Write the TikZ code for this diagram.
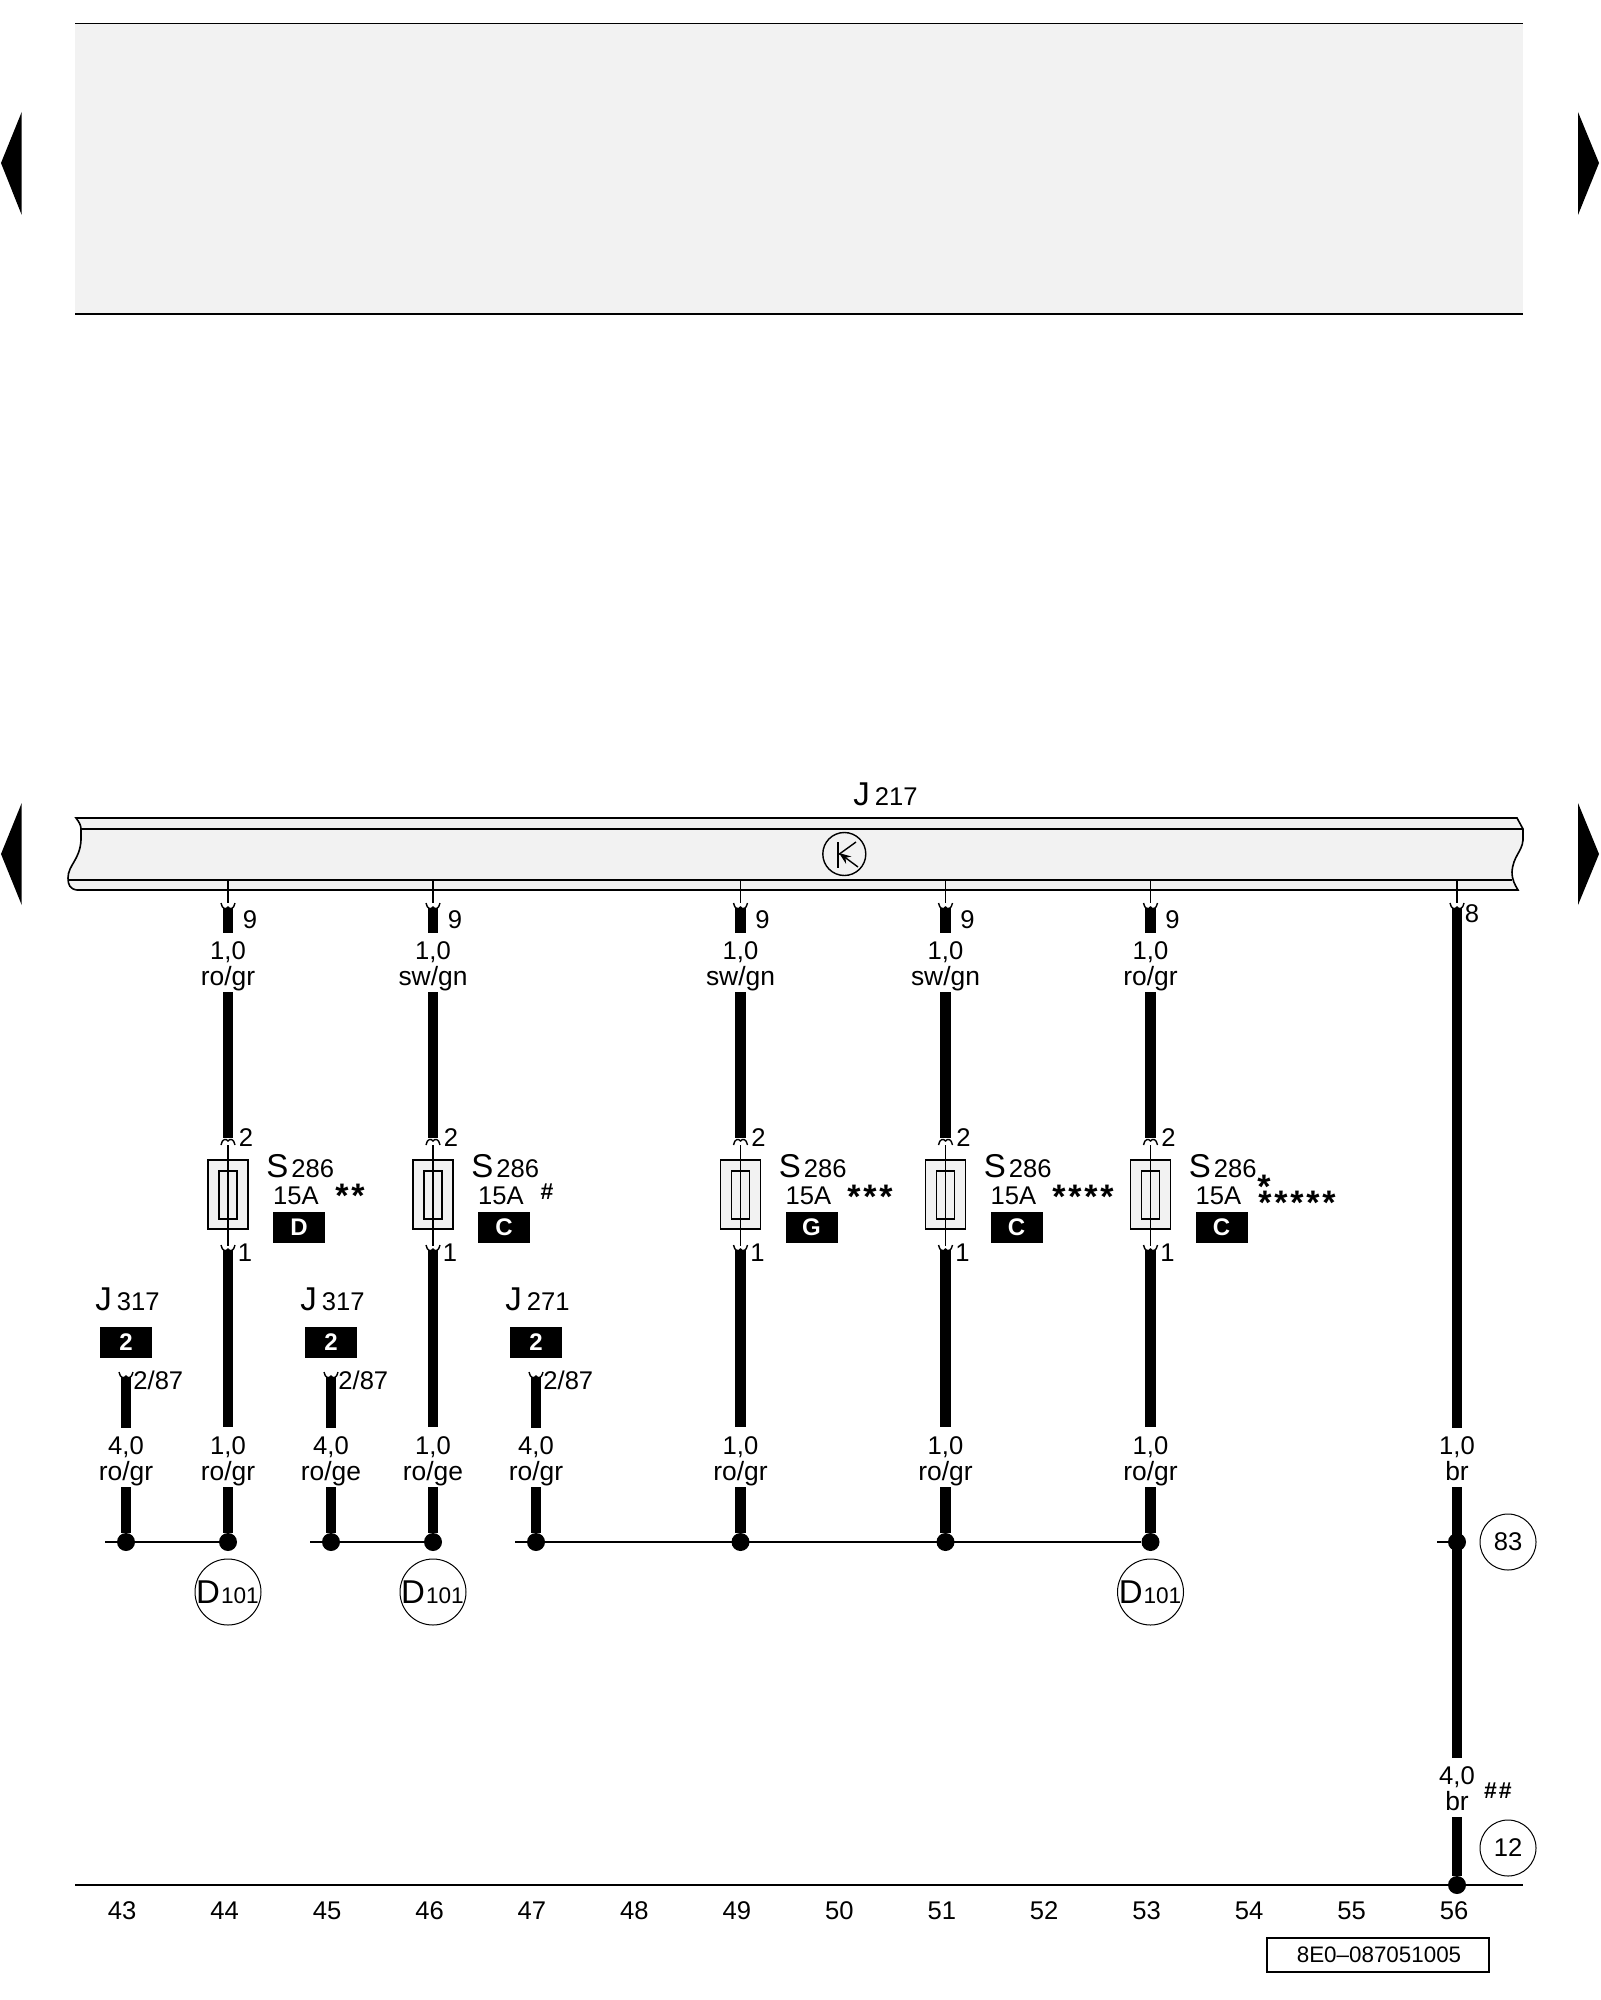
\documentclass[tikz,border=0pt]{standalone}
\usepackage{fontspec}
\usetikzlibrary{arrows.meta}
\setmainfont{Liberation Sans}
\definecolor{panelgray}{HTML}{F2F2F2}
\tikzset{
  lbl/.style={anchor=base, inner sep=0pt, font=\fontsize{12.8}{14}\selectfont},
  leadcol/.style={lbl, font=\fontsize{13.2}{15}\selectfont},
  wire/.style={line width=5.2pt},
  rail/.style={line width=0.8pt},
  pinline/.style={line width=0.7pt},
  dot/.style={circle, fill=black, inner sep=0pt, minimum size=9pt},
  refcircle/.style={circle, draw, line width=0.5pt, inner sep=0pt, minimum size=33pt, font=\fontsize{12.8}{14}\selectfont},
  tagbox/.style={fill=black, text=white, inner sep=0pt, minimum width=26pt, minimum height=15.5pt, font=\bfseries\fontsize{12}{14}\selectfont},
  fuseouter/.style={draw, fill=panelgray, line width=0.6pt, inner sep=0pt, minimum width=20pt, minimum height=34.5pt},
  fuseinner/.style={draw, line width=0.6pt, inner sep=0pt, minimum width=9pt, minimum height=24pt},
  stars/.style={anchor=base, inner sep=0pt, font=\bfseries\fontsize{17}{19}\selectfont},
  hashes/.style={anchor=base, inner sep=0pt, font=\bfseries\fontsize{11.5}{13}\selectfont},
  pincup/.pic={\draw[pinline] (-7,-5) .. controls (-6,1) and (-2,2) .. (0,-1) .. controls (2,2) and (6,1) .. (7,-5);}
}
\newcommand{\bigL}[1]{{\fontsize{16.5}{18}\selectfont #1}}
\newcommand{\onestar}{*\kern1.4pt}
\begin{document}
\begin{tikzpicture}[x=0.5pt, y=-0.5pt]
\useasboundingbox (0,0) rectangle (1600,2000);
% top panel
\fill[panelgray] (75,23.5) rectangle (1523,314);
\draw[rail] (75,23.5) -- (1523,23.5);
\draw[rail] (75,314) -- (1523,314);
% page arrows
\foreach \ya/\yb/\yc in {112/163/215, 803/854/905} {
  \fill (21.7,\ya) -- (1,\yb) -- (21.7,\yc) -- cycle;
  \fill (1578,\ya) -- (1599,\yb) -- (1578,\yc) -- cycle;
}
% control unit strip
\filldraw[fill=panelgray, draw=black, rail] (76,818) -- (1517,818) -- (1523,829) -- (1523,840)
  .. controls (1522,852) and (1513,856) .. (1512,872)
  .. controls (1512,880) and (1515,885) .. (1518,890) -- (77,890)
  .. controls (70,889) and (68,885) .. (68,878)
  .. controls (68,865) and (80,860) .. (81,840)
  -- (81,829) .. controls (81,825) and (79,822) .. (76,818) -- cycle;
\draw[rail] (81,829) -- (1523,829);
\draw[rail] (68.5,880) -- (1512,880);
\node[lbl, anchor=base west] (unit) at (853,805) {\bigL{J}\kern2.5pt 217};
% relay symbol
\node[circle, draw, line width=0.7pt, inner sep=0pt, minimum size=21.5pt] (relay) at (844.3,854) {};
\draw[pinline] (838,842) -- (838,868);
\draw[pinline] (838,855) -- (856,842);
\draw[pinline, -{Stealth[length=6pt, width=4.5pt]}] (858,867) -- (839,853);
% fused feeds
\foreach \col/\x/\upper/\tag/\lower in {44/228/{ro/gr}/D/{ro/gr}, 46/433/{sw/gn}/C/{ro/ge},
    49/740.5/{sw/gn}/G/{ro/gr}, 51/945.5/{sw/gn}/C/{ro/gr}, 53/1150.5/{ro/gr}/C/{ro/gr}} {
  \coordinate (bar\col) at (\x,880);
  \coordinate (neck\col) at (\x,903);
  \coordinate (top\col) at (\x,908);
  \coordinate (stubend\col) at (\x,933);
  \coordinate (upstart\col) at (\x,992);
  \coordinate (upend\col) at (\x,1138);
  \coordinate (cap\col) at (\x,1140);
  \coordinate (fusein\col) at (\x,1145);
  \coordinate (fuseout\col) at (\x,1246);
  \coordinate (lowstart\col) at (\x,1250);
  \coordinate (lowend\col) at (\x,1427);
  \coordinate (tailstart\col) at (\x,1487);
  \node[dot] (node\col) at (\x,1542) {};
  \draw[pinline] (bar\col) -- (neck\col);
  \pic at (top\col) {pincup};
  \draw[wire] (top\col) -- (stubend\col);
  \node[lbl] (num\col) at (\x+22,928) {9};
  \node[lbl] (upsize\col) at (\x,959) {1,0};
  \node[leadcol] (upcol\col) at (\x,985) {\upper};
  \draw[wire] (upstart\col) -- (upend\col);
  \pic[yscale=-1] at (cap\col) {pincup};
  \node[lbl] (pintwo\col) at (\x+18,1146) {2};
  \node[fuseouter] (fuse\col) at (\x,1194.5) {};
  \node[fuseinner] (link\col) at (\x,1195) {};
  \draw[pinline] (fusein\col) -- (fuseout\col);
  \pic at (lowstart\col) {pincup};
  \node[lbl] (pinone\col) at (\x+17,1261) {1};
  \node[lbl, anchor=base west] (fname\col) at (\x+38,1177) {\bigL{S}\kern1.5pt 286};
  \node[lbl] (amp\col) at (\x+68,1204) {15A};
  \node[tagbox] (tag\col) at (\x+71,1227.5) {\tag};
  \draw[wire] (lowstart\col) -- (lowend\col);
  \node[lbl] (lowsize\col) at (\x,1454) {1,0};
  \node[leadcol] (lowcol\col) at (\x,1480) {\lower};
  \draw[wire] (tailstart\col) -- (node\col);
}
\node[stars] (note44) at (350,1207) {\onestar *};
\node[hashes] (note46) at (547,1199) {\#};
\node[stars] (note49) at (870,1208) {\onestar\onestar *};
\node[stars] (note51) at (1083,1208) {\onestar\onestar\onestar *};
\node[stars] (note53a) at (1264,1198) {*};
\node[stars] (note53b) at (1297,1214) {\onestar\onestar\onestar\onestar *};
% relay outputs
\foreach \col/\x/\relay/\lower in {43/126/317/{ro/gr}, 45/331/317/{ro/ge}, 47/536/271/{ro/gr}} {
  \node[lbl, anchor=base west] (rname\col) at (\x-31,1310) {\bigL{J}\kern2.5pt \relay};
  \node[tagbox] (rtag\col) at (\x,1342) {2};
  \coordinate (rtop\col) at (\x,1377);
  \coordinate (rend\col) at (\x,1428);
  \coordinate (rtail\col) at (\x,1487);
  \node[dot] (node\col) at (\x,1542) {};
  \pic at (rtop\col) {pincup};
  \draw[wire] (rtop\col) -- (rend\col);
  \node[lbl, anchor=base west] (rpin\col) at (\x+7,1389) {2/87};
  \node[lbl] (rsize\col) at (\x,1454) {4,0};
  \node[leadcol] (rlead\col) at (\x,1480) {\lower};
  \draw[wire] (rtail\col) -- (node\col);
}
% bus lines
\coordinate (busa) at (105,1542);
\coordinate (busb) at (310,1542);
\coordinate (busc) at (515,1542);
\draw[rail] (busa) -- (node44);
\draw[rail] (busb) -- (node46);
\draw[rail] (busc) -- (node53);
\node[refcircle] (ref44) at (228,1592) {\bigL{\kern-0.5pt D}\kern0.5pt{\fontsize{11.3}{12}\selectfont 101}};
\node[refcircle] (ref46) at (433,1592) {\bigL{\kern-0.5pt D}\kern0.5pt{\fontsize{11.3}{12}\selectfont 101}};
\node[refcircle] (ref53) at (1150.5,1592) {\bigL{\kern-0.5pt D}\kern0.5pt{\fontsize{11.3}{12}\selectfont 101}};
% earth lead
\coordinate (bar56) at (1457,880);
\coordinate (neck56) at (1457,903);
\coordinate (top56) at (1457,908);
\coordinate (mid56) at (1457,1428);
\coordinate (restart56) at (1457,1487);
\coordinate (end56) at (1457,1758);
\coordinate (last56) at (1457,1817);
\coordinate (stub83) at (1437,1542);
\draw[pinline] (bar56) -- (neck56);
\pic at (top56) {pincup};
\draw[wire] (top56) -- (mid56);
\node[lbl] (num56) at (1472,922) {8};
\node[lbl] (size56a) at (1457,1454) {1,0};
\node[leadcol] (lead56a) at (1457,1480) {br};
\draw[wire] (restart56) -- (end56);
\node[dot] (node83) at (1457,1542) {};
\draw[rail] (stub83) -- (node83);
\node[refcircle, minimum size=28pt] (ref83) at (1508,1542) {83};
\node[lbl] (size56b) at (1457,1784) {4,0};
\node[leadcol] (lead56b) at (1457,1810) {br};
\node[hashes] (note56) at (1498,1798) {\#\kern1pt\#};
\node[dot] (node12) at (1457,1885) {};
\draw[wire] (last56) -- (node12);
\node[refcircle, minimum size=28pt] (ref12) at (1508,1848) {12};
% base line and track numbers
\coordinate (basel) at (75,1885);
\coordinate (baser) at (1523,1885);
\draw[rail] (basel) -- (baser);
\foreach \n in {43,...,56}
  \node[lbl] (track\n) at ({1454-(56-\n)*102.45},1919) {\n};
\node[draw, rail, inner sep=0pt, minimum width=111pt, minimum height=17pt, font=\fontsize{11.2}{13}\selectfont] (docno) at (1378,1955) {\kern1pt 8E0--087051005};
\end{tikzpicture}
\end{document}
